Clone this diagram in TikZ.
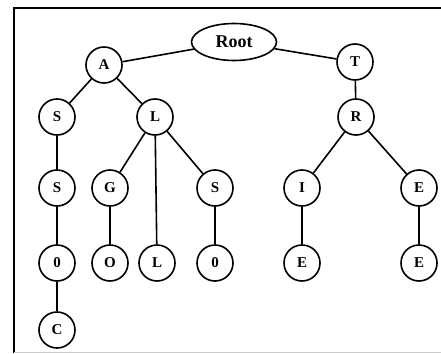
\documentclass[tikz,border=0pt]{standalone}
\usepackage{fontspec}
\setmainfont{Liberation Serif}
\usetikzlibrary{shapes.geometric}
\begin{document}
\begin{tikzpicture}[x=1pt,y=-1pt,
  letter/.style={circle,draw,line width=1.6pt,minimum size=36pt,inner sep=0pt,font=\fontsize{15}{15}\selectfont\bfseries},
  rootnode/.style={ellipse,draw,line width=1.6pt,minimum width=85pt,minimum height=37pt,inner sep=0pt,font=\fontsize{18}{18}\selectfont\bfseries},
  edge/.style={line width=1.6pt}]
\useasboundingbox (0,0) rectangle (441,353);
\draw[line width=2.2pt] (14,353) -- (14,8) -- (441,8);
\draw[line width=1pt,black!20] (14,352) -- (441,352);
\node[rootnode] (root) at (234,42) {Root};
\node[letter] (A) at (104,65) {A};
\node[letter] (T) at (355,62) {T};
\node[letter] (S1) at (57,117) {S};
\node[letter] (L1) at (155,117) {L};
\node[letter] (R) at (356,117) {R};
\node[letter] (S2) at (57,188) {S};
\node[letter] (G) at (110,188) {G};
\node[letter] (S3) at (215,188) {S};
\node[letter] (I) at (302,188) {I};
\node[letter] (E1) at (419,188) {E};
\node[letter] (Z1) at (57,263) {0};
\node[letter] (O) at (110,263) {O};
\node[letter] (L2) at (157,263) {L};
\node[letter] (Z2) at (215,263) {0};
\node[letter] (E2) at (302,263) {E};
\node[letter] (E3) at (419,263) {E};
\node[letter] (C) at (57,330) {C};
\draw[edge] (root) -- (A);
\draw[edge] (root) -- (T);
\draw[edge] (A) -- (S1);
\draw[edge] (A) -- (L1);
\draw[edge] (T) -- (R);
\draw[edge] (S1) -- (S2);
\draw[edge] (S2) -- (Z1);
\draw[edge] (Z1) -- (C);
\draw[edge] (L1) -- (G);
\draw[edge] (L1) -- (L2);
\draw[edge] (L1) -- (S3);
\draw[edge] (G) -- (O);
\draw[edge] (S3) -- (Z2);
\draw[edge] (R) -- (I);
\draw[edge] (R) -- (E1);
\draw[edge] (I) -- (E2);
\draw[edge] (E1) -- (E3);
\end{tikzpicture}
\end{document}
